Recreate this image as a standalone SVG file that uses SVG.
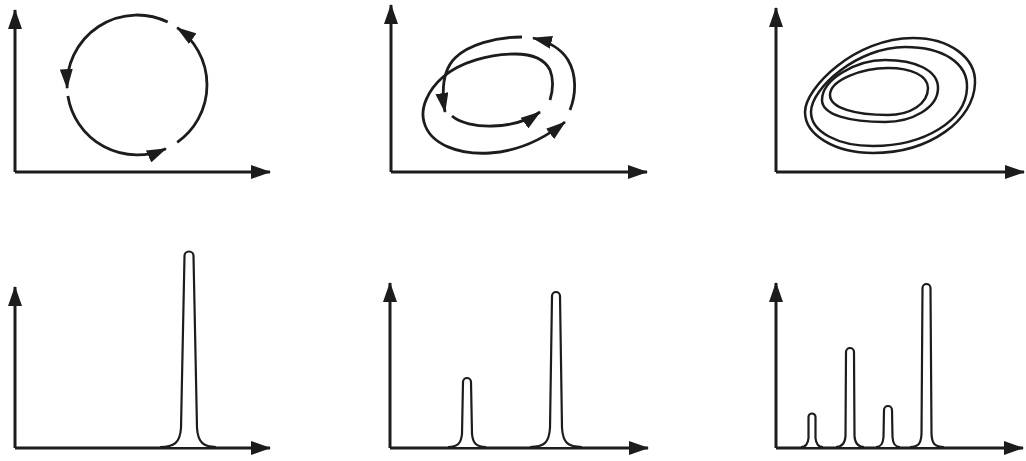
<svg xmlns="http://www.w3.org/2000/svg" width="1026" height="461" viewBox="0 0 1026 461">
<style>
.ax{fill:none;stroke:#1c1c1c;stroke-width:3;marker-end:url(#axh)}
.ca{fill:none;stroke:#1c1c1c;stroke-width:2.8;marker-end:url(#cvh)}
.lp{fill:none;stroke:#1c1c1c;stroke-width:2.5}
.pk{fill:#fff;stroke:#1c1c1c;stroke-width:2.2}
</style>
<defs>
<marker id="axh" markerUnits="userSpaceOnUse" markerWidth="20" markerHeight="14" refX="19" refY="7" orient="auto"><path d="M0,0 L20,7 L0,14 z" fill="#1c1c1c"/></marker>
<marker id="cvh" markerUnits="userSpaceOnUse" markerWidth="20" markerHeight="13" refX="19" refY="6.5" orient="auto"><path d="M0,0 L20,6.5 L0,13 z" fill="#1c1c1c"/></marker>
</defs>
<rect width="1026" height="461" fill="#fff"/>

<g id="panel-limit-cycle">
<path class="ax" d="M15,172 L15,10"/>
<path class="ax" d="M15,172 L270,172"/>
<path class="ca" d="M177.2,142.3 A70,70 0 0 0 177.2,27.7"/>
<path class="ca" d="M167.7,22.1 A70,70 0 0 0 67.1,88.1"/>
<path class="ca" d="M67.9,96 A70,70 0 0 0 165.9,148.7"/>
</g>

<g id="panel-period-two">
<path class="ax" d="M391,172 L391,5"/>
<path class="ax" d="M391,172 L647,172"/>
<path class="ca" d="M452,116 C468,130 515,130 540,112"/>
<path class="ca" d="M550,100 C553,90 554,80 550,70 C544,58 530,54 515,54 C490,54 460,62 443,77 C428,90 420,108 424,122 C430,145 460,155 490,153 C520,151 545,138 565,122"/>
<path class="ca" d="M570,110 C576,95 577,75 568,60 C562,50 550,42 533,38"/>
<path class="ca" d="M522,37 C495,37 468,45 455,58 C443,70 441,88 445,112"/>
</g>

<g id="panel-chaotic">
<path class="ax" d="M776,172 L776,8"/>
<path class="ax" d="M776,172 L1024,172"/>
<path class="lp" d="M913,38 C950,38 976,58 975,83 C974,120 930,153 873,153 C835,153 805,135 805,112 C805,88 855,38 913,38 Z"/>
<path class="lp" d="M905,47 C943,47 968,63 967,88 C966,120 925,146 873,146 C838,146 811,132 811,112 C811,88 858,47 905,47 Z"/>
<path class="lp" d="M885,60 C915,60 938,70 938,88 C938,108 912,122 885,122 C850,122 822,115 822,100 C822,80 855,60 885,60 Z"/>
<path class="lp" d="M888,68 C912,68 928,76 928,88 C928,104 910,115 888,115 C855,115 830,108 830,95 C830,80 862,68 888,68 Z"/>
</g>

<g id="panel-spectrum-1">
<path class="ax" d="M15,448 L15,287"/>
<path class="ax" d="M15,448 L270,448"/>
<path class="pk" d="M160,447 C174,447 180,443 181,428 L184.5,256 A4.5,4.5 0 0 1 193.5,256 L197,428 C198,443 204,447 216,447"/>
</g>

<g id="panel-spectrum-2">
<path class="ax" d="M390,448 L390,283"/>
<path class="ax" d="M390,448 L648,448"/>
<path class="pk" d="M448,447 C457,447 461,444 462,434 L463,382 A4,4 0 0 1 471,382 L472,434 C473,444 477,447 486,447"/>
<path class="pk" d="M530,447 C544,447 549,443 550,428 L552,296 A4,4 0 0 1 560,296 L562,428 C563,443 568,447 582,447"/>
</g>

<g id="panel-spectrum-3">
<path class="ax" d="M776,448 L776,283"/>
<path class="ax" d="M776,448 L1023,448"/>
<path class="pk" d="M801,447 C806,447 808,444 808.5,438 L808.5,417 A3.5,3.5 0 0 1 815.5,417 L815.5,438 C816,444 818,447 823,447"/>
<path class="pk" d="M836,447 C842,447 845,444 845.5,436 L846,352 A4,4 0 0 1 854,352 L854.5,436 C855,444 858,447 864,447"/>
<path class="pk" d="M876,447 C881,447 883,444 883.5,437 L884,410 A4,4 0 0 1 892,410 L892.5,437 C893,444 895,447 900,447"/>
<path class="pk" d="M910,447 C918,447 921,444 921.5,434 L922.5,288 A4,4 0 0 1 930.5,288 L931.5,434 C932,444 935,447 944,447"/>
</g>
</svg>
